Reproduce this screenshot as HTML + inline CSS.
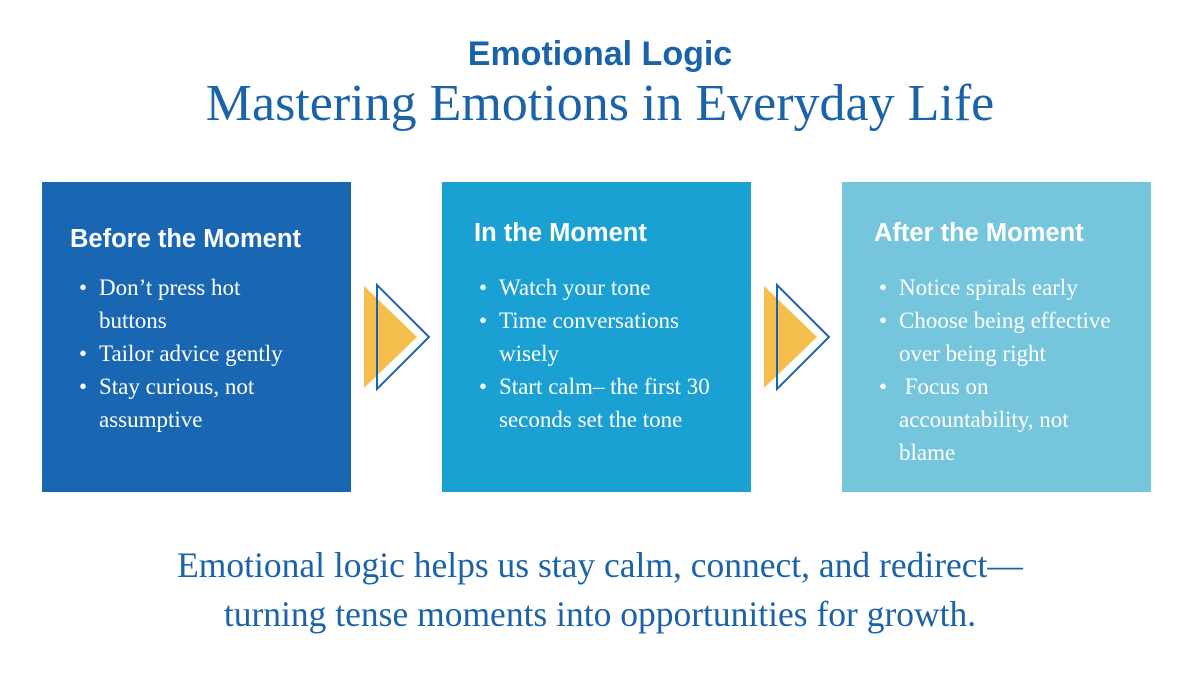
<!DOCTYPE html>
<html><head><style>
body{margin:0;width:1200px;height:675px;background:#fff;position:relative;overflow:hidden;font-family:"Liberation Serif",serif;}
.t1{position:absolute;top:35px;width:1200px;text-align:center;font:bold 34px "Liberation Sans",sans-serif;color:#1b63a9;}
.t2{position:absolute;top:74px;width:1200px;text-align:center;font-size:52px;color:#1b63a9;}
.box{position:absolute;top:182px;width:309px;height:310px;color:#fff;}
.box h3{margin:0;position:absolute;left:28px;font:bold 25.5px "Liberation Sans",sans-serif;}
.box ul{position:absolute;left:57px;top:89px;margin:0;padding:0;list-style:none;font-size:23px;line-height:33px;width:250px;white-space:nowrap;}
.box li{position:relative;}
.box li:before{content:"•";position:absolute;left:-20px;}
.foot{position:absolute;top:541px;width:1200px;text-align:center;font-size:35.5px;line-height:49px;color:#1b63a9;}
</style></head><body>
<div class="t1">Emotional Logic</div>
<div class="t2">Mastering Emotions in Everyday Life</div>
<div class="box" style="left:42px;background:#1967b2"><h3 style="top:43px">Before the Moment</h3>
<ul><li>Don’t press hot<br>buttons</li><li>Tailor advice gently</li><li>Stay curious, not<br>assumptive</li></ul></div>
<div class="box" style="left:442px;background:#1aa0d3"><h3 style="top:37px;left:32px">In the Moment</h3>
<ul><li>Watch your tone</li><li>Time conversations<br>wisely</li><li>Start calm– the first 30<br>seconds set the tone</li></ul></div>
<div class="box" style="left:842px;background:#75c5dc"><h3 style="top:37px;left:32px">After the Moment</h3>
<ul><li>Notice spirals early</li><li>Choose being effective<br>over being right</li><li>&nbsp;Focus on<br>accountability, not<br>blame</li></ul></div>
<svg width="1200" height="675" style="position:absolute;left:0;top:0">
<polygon points="364,286 364,388 417,337" fill="#f5bf4c"/>
<polygon points="377,285 377,389 429,337" fill="none" stroke="#1b63a9" stroke-width="2"/>
<polygon points="764,286 764,388 817,337" fill="#f5bf4c"/>
<polygon points="777,285 777,389 829,337" fill="none" stroke="#1b63a9" stroke-width="2"/>
</svg>
<div class="foot">Emotional logic helps us stay calm, connect, and redirect—<br>turning tense moments into opportunities for growth.</div>
</body></html>
